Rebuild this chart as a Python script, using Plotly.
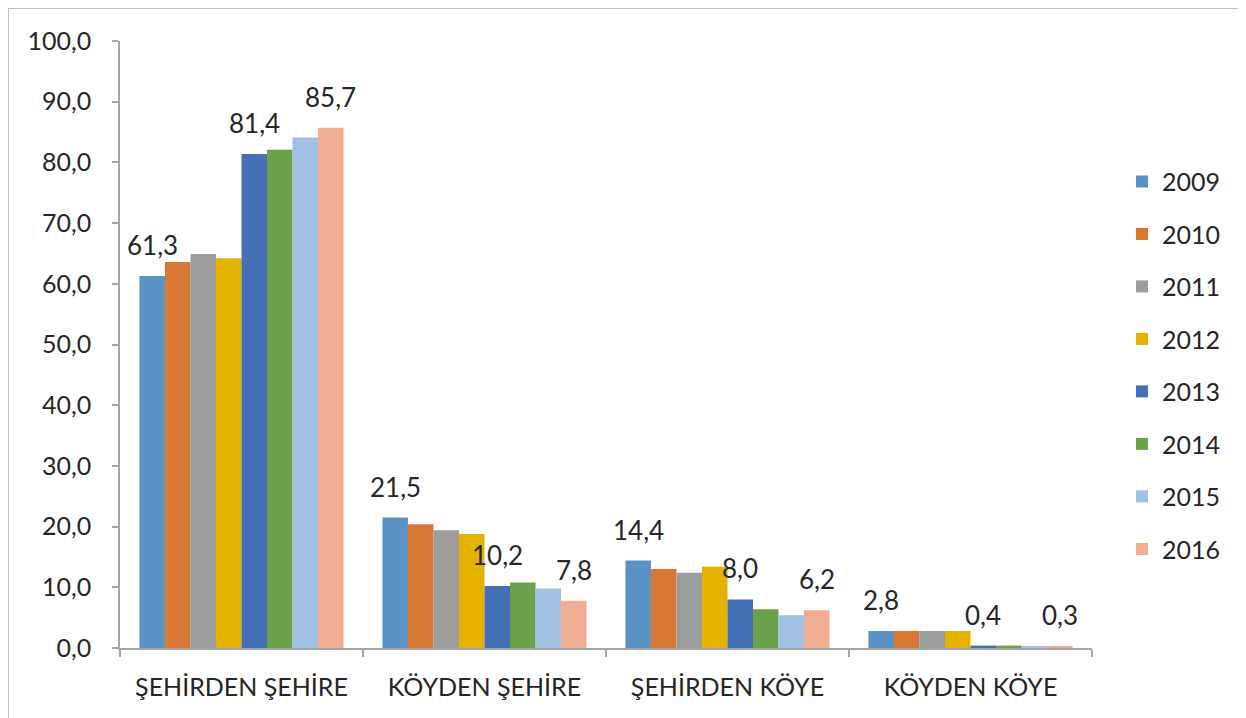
import plotly.graph_objects as go

categories = ["ŞEHİRDEN ŞEHİRE", "KÖYDEN ŞEHİRE", "ŞEHİRDEN KÖYE", "KÖYDEN KÖYE"]
years = ["2009", "2010", "2011", "2012", "2013", "2014", "2015", "2016"]

v2009 = [61.3, 21.5, 14.4, 2.8]
v2010 = [63.6, 20.4, 13.0, 2.8]
v2011 = [64.9, 19.4, 12.4, 2.8]
v2012 = [64.2, 18.8, 13.4, 2.8]
v2013 = [81.4, 10.2, 8.0, 0.4]
v2014 = [82.1, 10.8, 6.4, 0.4]
v2015 = [84.1, 9.8, 5.4, 0.3]
v2016 = [85.7, 7.8, 6.2, 0.3]
series = [v2009, v2010, v2011, v2012, v2013, v2014, v2015, v2016]

labelled_years = ["2009", "2013", "2016"]

colors = ["#5A92C4", "#D97834", "#9D9D9D", "#E5B200",
          "#4470B5", "#6BA14A", "#A0C1E4", "#F2AE92"]

FONT = "Lato"
TXT = "#262626"
bargap = 0.16

W, H = 1246, 718
ML, MR, MT, MB = 112, 162, 33, 78
PW, PH = W - ML - MR, H - MT - MB

fig = go.Figure()
for yr, vals, col in zip(years, series, colors):
    fig.add_trace(go.Bar(
        name=yr, x=categories, y=vals, marker=dict(color=col, line=dict(width=0)),
        legendgroup=yr,
    ))

n = len(years)
w = (1 - bargap) / n
annotations = []
for j, (yr, vals) in enumerate(zip(years, series)):
    if yr not in labelled_years:
        continue
    for i, v in enumerate(vals):
        annotations.append(dict(
            x=i + (j - (n - 1) / 2) * w, y=v, xref="x", yref="y",
            text=f"{v:.1f}".replace(".", ","), showarrow=False,
            yanchor="middle", yshift=31,
            font=dict(family=FONT, size=26, color=TXT),
        ))

fig.update_layout(
    width=W, height=H,
    barmode="group", bargap=bargap, bargroupgap=0,
    separators=",.",
    paper_bgcolor="white", plot_bgcolor="white",
    margin=dict(l=ML, r=MR, t=MT, b=MB),
    font=dict(family=FONT, size=25, color=TXT),
    showlegend=True,
    legend=dict(x=(1122 - 8 - ML) / PW, xanchor="left", y=0.466, yanchor="middle",
                font=dict(family=FONT, size=25, color=TXT),
                tracegroupgap=17, bgcolor="rgba(0,0,0,0)"),
    annotations=annotations,
    shapes=[dict(type="rect", xref="paper", yref="paper",
                 x0=-ML / PW, x1=1.5, y0=-0.5, y1=1 + MT / PH,
                 line=dict(color="#BFBFBF", width=2), fillcolor="rgba(0,0,0,0)")],
    xaxis=dict(type="category", showline=True, linecolor="#A6A6A6", linewidth=1.5,
               ticks="outside", ticklen=7, tickcolor="#A6A6A6", tickwidth=1.5,
               tickson="boundaries", showgrid=False, zeroline=False,
               ticklabelstandoff=16,
               tickfont=dict(family=FONT, size=25, color=TXT)),
    yaxis=dict(range=[0, 100], dtick=10, tickformat=".1f",
               showline=True, linecolor="#A6A6A6", linewidth=1.5,
               ticks="outside", ticklen=6, tickcolor="#A6A6A6", tickwidth=1.5,
               showgrid=False, zeroline=False, ticklabelstandoff=16,
               tickfont=dict(family=FONT, size=25, color=TXT)),
)

fig.write_html("out.html")
